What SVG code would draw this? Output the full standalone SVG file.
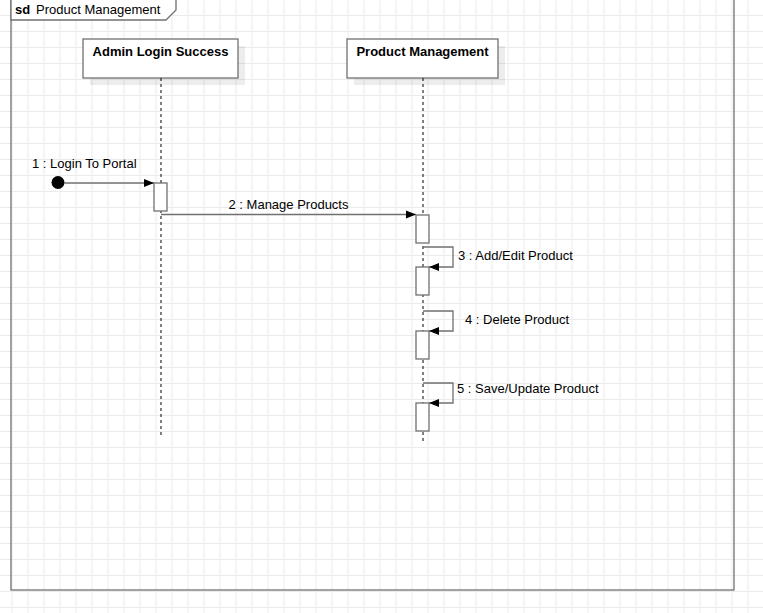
<svg xmlns="http://www.w3.org/2000/svg" width="763" height="613" viewBox="0 0 763 613">
  <defs>
    <pattern id="grid" x="11.5" y="15" width="16" height="16" patternUnits="userSpaceOnUse">
      <path d="M0 0.5H16M0.5 0V16" fill="none" stroke="#ebebeb" stroke-width="1"/>
    </pattern>
    <marker id="arrow" viewBox="0 0 10 10" refX="10" refY="5" markerWidth="10" markerHeight="10" markerUnits="userSpaceOnUse" orient="auto">
      <path d="M0 1L10 5L0 9Z" fill="#000"/>
    </marker>
  </defs>
  <style>
    text { font-family: "Liberation Sans", Arial, sans-serif; font-size: 13px; fill: #000; }
    .bold { font-weight: bold; }
    .line { fill: none; stroke: #707070; stroke-width: 1.3; }
    .box { fill: #fff; stroke: #707070; stroke-width: 1.3; }
    .shadow { fill: #000; opacity: 0.07; }
    .life { fill: none; stroke: #000; stroke-width: 1; stroke-dasharray: 3 3; }
    .msg { fill: none; stroke: #707070; stroke-width: 1.3; marker-end: url(#arrow); }
  </style>

  <rect width="763" height="613" fill="#fff"/>
  <rect width="763" height="613" fill="url(#grid)"/>

  <!-- sequence frame -->
  <g id="frame">
    <rect class="line" x="11" y="-2" width="723" height="592"/>
    <path class="box" d="M11 -2H176V10L166 20H11Z"/>
    <text x="15" y="14"><tspan class="bold">sd</tspan><tspan x="36">Product Management</tspan></text>
  </g>

  <!-- lifelines -->
  <g id="admin-login-success">
    <rect class="shadow" x="90" y="46" width="155" height="39"/>
    <rect class="box" x="83" y="39" width="155" height="39"/>
    <text class="bold" x="160.5" y="56" text-anchor="middle">Admin Login Success</text>
    <line class="life" x1="161" y1="78" x2="161" y2="436"/>
  </g>
  <g id="product-management">
    <rect class="shadow" x="354" y="46" width="151" height="39"/>
    <rect class="box" x="347" y="39" width="151" height="39"/>
    <text class="bold" x="422.5" y="56" text-anchor="middle">Product Management</text>
    <line class="life" x1="423" y1="78" x2="423" y2="441"/>
  </g>

  <!-- connectors -->
  <g id="messages">
    <circle cx="58" cy="182.5" r="6.5" fill="#000"/>
    <line class="msg" x1="64" y1="183" x2="154" y2="183"/>
    <line class="msg" x1="161" y1="214.5" x2="416" y2="214.5"/>
    <path class="msg" d="M423 247H453V267H429"/>
    <path class="msg" d="M423 311H453V331H429"/>
    <path class="msg" d="M423 383H453V403H429"/>
  </g>

  <!-- activation bars -->
  <g id="activation-admin">
    <rect class="box" x="154" y="183" width="13" height="28"/>
  </g>
  <g id="activation-manage">
    <rect class="box" x="416" y="215" width="13" height="28"/>
  </g>
  <g id="activation-add-edit">
    <rect class="box" x="416" y="267" width="13" height="28"/>
  </g>
  <g id="activation-delete">
    <rect class="box" x="416" y="331" width="13" height="28"/>
  </g>
  <g id="activation-save">
    <rect class="box" x="416" y="403" width="13" height="28"/>
  </g>

  <!-- message labels -->
  <g id="labels">
    <text x="32" y="168">1 : Login To Portal</text>
    <text x="288.5" y="209" text-anchor="middle">2 : Manage Products</text>
    <text x="458" y="260">3 : Add/Edit Product</text>
    <text x="465" y="324">4 : Delete Product</text>
    <text x="457" y="393">5 : Save/Update Product</text>
  </g>
</svg>
